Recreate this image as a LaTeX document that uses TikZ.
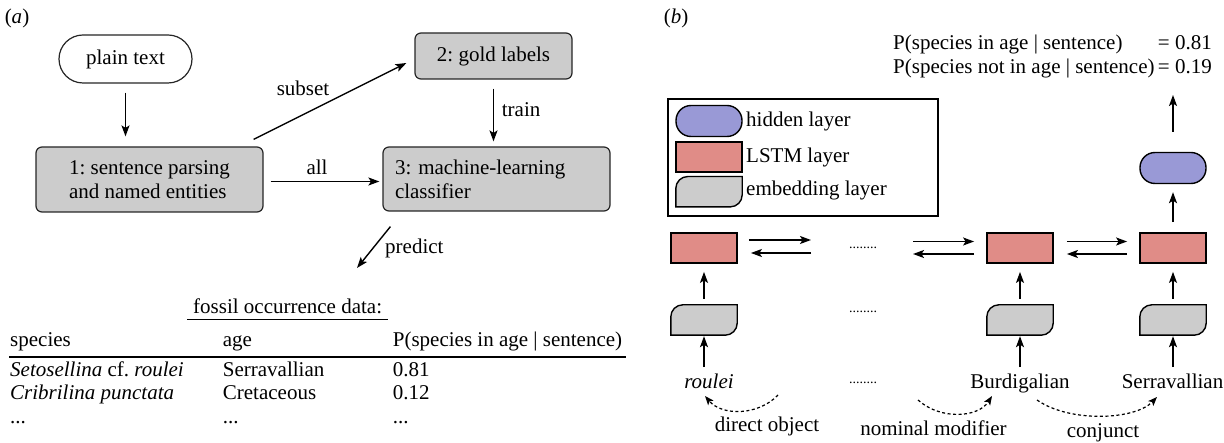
\documentclass[tikz,border=0pt]{standalone}
\usepackage{fontspec}
\setmainfont{Liberation Serif}
\usetikzlibrary{arrows.meta,calc}
\definecolor{boxgray}{RGB}{204,204,204}
\definecolor{hidblue}{RGB}{153,153,214}
\definecolor{lstmred}{RGB}{224,140,135}
\newcommand\embshape[1]{%
  \draw[embdraw] (#1.south west) -- ($(#1.north west)+(0,12)$)
    .. controls ($(#1.north west)+(0,5.4)$) and ($(#1.north west)+(5.4,0)$) .. ($(#1.north west)+(12,0)$)
    -- (#1.north east) -- ($(#1.south east)+(0,-12)$)
    .. controls ($(#1.south east)+(0,-5.4)$) and ($(#1.south east)+(-5.4,0)$) .. ($(#1.south east)+(-12,0)$)
    -- cycle;}
\frenchspacing
\begin{document}
\begin{tikzpicture}[x=1pt,y=-1pt,
  font=\fontsize{21}{24}\selectfont,
  arr/.style={line width=1.4pt,-{Stealth[length=11pt,width=8pt,inset=2.5pt]}},
  darr/.style={line width=1.2pt,dash pattern=on 3pt off 2.5pt,-{Stealth[length=9pt,width=7pt,inset=2pt]}},
  procbox/.style={draw=black!85,line width=1.2pt,fill=boxgray,rounded corners=6pt,inner sep=0pt,align=left},
  startbox/.style={draw=black!85,line width=1.2pt,fill=white,rounded corners=24pt,inner sep=0pt},
  hidbox/.style={draw=black,line width=1.4pt,fill=hidblue,rounded corners=15pt,minimum width=66pt,minimum height=31pt,inner sep=0pt},
  lstmbox/.style={draw=black,line width=1.8pt,fill=lstmred,minimum width=66pt,minimum height=30pt,inner sep=0pt},
  embbox/.style={minimum width=66pt,minimum height=30pt,inner sep=0pt},
  embdraw/.style={draw=black,line width=1.4pt,fill=boxgray},
  cell/.style={anchor=base west,inner sep=0pt},
  word/.style={anchor=base,inner sep=0pt},
  dotsn/.style={anchor=base,inner sep=0pt,font=\fontsize{14}{14}\selectfont},
  lbl/.style={inner sep=0pt}]
\useasboundingbox (0,0) rectangle (1224,443);

% ---------------- panel (a)
\node[lbl] (la) at (17,18) {(\textit{a})};
\node[startbox,minimum width=133pt,minimum height=48pt] (plain) at (125.5,59) {plain text};
\node[procbox,minimum width=227pt,minimum height=65pt] (parse) at (149.5,179.5) {1: sentence parsing\\and named entities};
\node[procbox,minimum width=157pt,minimum height=46pt] (gold) at (493.5,56) {2: gold labels};
\node[procbox,minimum width=227pt,minimum height=64pt,text width=203pt] (clf) at (496.5,179) {3: machine-learning\\classifier};

\draw[arr,shorten <=9pt,shorten >=10pt] (plain.south) -- (plain.south |- parse.north);
\draw[arr] ($(parse.north east)+(-10,-7)$) -- ($(gold.west)+(-8,7)$);
\node[lbl] (lsubset) at (303,88) {subset};
\draw[arr] ($(parse.east)+(7,2)$) -- ($(clf.west)+(-3,2.5)$);
\node[lbl] (lall) at (317,167) {all};
\draw[arr,shorten <=9pt,shorten >=5pt] (gold.south) -- (gold.south |- clf.north);
\node[lbl,anchor=west] (ltrain) at (501.7,110) {train};
\coordinate (predtip) at (357,268);
\draw[arr] ($(clf.south west)+(8,15)$) -- (predtip);
\node[lbl,anchor=west] (lpredict) at (385,248) {predict};

% table
\node[cell] (ttl) at (193,314) {fossil occurrence data:};
\draw[line width=1pt] ($(ttl.base west)+(-6,6)$) -- ($(ttl.base east)+(6,6)$);
\node[cell] (h1) at (10,346.7) {species};
\node[cell] (h2) at (222.7,346.7) {age};
\node[cell] (h3) at (392.7,346.7) {P(species in age | sentence)};
\draw[line width=2pt] (9,357.3) -- (626,357.3);
\node[cell] (r11) at (10,376.7) {\textit{Setosellina} cf. \textit{roulei}};
\node[cell] (r12) at (222.7,376.7) {Serravallian};
\node[cell] (r13) at (392.7,376.7) {0.81};
\node[cell] (r21) at (10,400) {\textit{Cribrilina punctata}};
\node[cell] (r22) at (222.7,400) {Cretaceous};
\node[cell] (r23) at (392.7,400) {0.12};
\node[cell] (r31) at (10,424) {...};
\node[cell] (r32) at (222.7,424) {...};
\node[cell] (r33) at (392.7,424) {...};

% ---------------- panel (b)
\node[lbl] (lb) at (676,18) {(\textit{b})};
\node[cell] (o1) at (893,50) {P(species in age | sentence)};
\node[cell,anchor=base east] (o1v) at (1212,50) {= 0.81};
\node[cell] (o2) at (893,74) {P(species not in age | sentence)};
\node[cell,anchor=base east] (o2v) at (1212,74) {= 0.19};

% legend
\node[draw=black,line width=1.2pt,minimum width=270pt,minimum height=117pt,inner sep=0pt] (legend) at (803,157.5) {};
\node[hidbox] (kh) at (709,121) {};
\node[lstmbox] (kl) at (709,156.7) {};
\node[embbox] (ke) at (709,191.7) {};
\embshape{ke}
\node[lbl,anchor=west] (khl) at (746,121.7) {hidden layer};
\node[lbl,anchor=west] (kll) at (746,157) {LSTM layer};
\node[lbl,anchor=west] (kel) at (746,190) {embedding layer};

% network
\node[lstmbox] (L1) at (704,248) {};
\node[lstmbox] (L2) at (1020,248) {};
\node[lstmbox] (L3) at (1173,248) {};
\node[embbox] (E1) at (704,320) {};
\node[embbox] (E2) at (1020,320) {};
\node[embbox] (E3) at (1173,320) {};
\embshape{E1}\embshape{E2}\embshape{E3}
\node[word] (w1) at (709,389) {\textit{roulei}};
\node[word] (w2) at (1020,389) {Burdigalian};
\node[word] (w3) at (1172.5,389) {Serravallian};
\node[dotsn] (dt1) at (863,249) {........};
\node[dotsn] (dt2) at (863,313) {........};
\node[dotsn] (dt3) at (863,384) {........};
\node[hidbox] (H) at (1173,168) {};
\coordinate (out) at (1173,95);

\draw[arr,shorten <=7pt,shorten >=1pt] (w1.north -| E1.south) -- (E1.south);
\draw[arr,shorten <=7pt,shorten >=1pt] (w2.north -| E2.south) -- (E2.south);
\draw[arr,shorten <=7pt,shorten >=1pt] (w3.north -| E3.south) -- (E3.south);
\draw[arr,shorten <=6pt,shorten >=8pt] (E1.north) -- (L1.south);
\draw[arr,shorten <=6pt,shorten >=8pt] (E2.north) -- (L2.south);
\draw[arr,shorten <=6pt,shorten >=8pt] (E3.north) -- (L3.south);
\draw[arr,shorten <=10pt,shorten >=8pt] (L3.north) -- (H.south);
\draw[arr,shorten <=20pt] (H.north) -- (out);

\coordinate (a1r) at (811,240);
\coordinate (a1l) at (811,253);
\draw[arr] ($(L1.east)+(11,-8)$) -- (a1r);
\draw[arr] (a1l) -- ($(L1.east)+(13,5)$);
\coordinate (a2r) at (913,241.5);
\coordinate (a2l) at (913,254);
\draw[arr] (a2r) -- ($(L2.west)+(-12,-6.5)$);
\draw[arr] ($(L2.west)+(-12,6)$) -- (a2l);
\draw[arr] ($(L2.east)+(13,-6.5)$) -- ($(L3.west)+(-12,-6.5)$);
\draw[arr] ($(L3.west)+(-12,6)$) -- ($(L2.east)+(13,6)$);

% dependency arcs
\coordinate (d1s) at (778,395);
\coordinate (d1e) at (705,396);
\draw[darr] (d1s) .. controls (758,416) and (722,416) .. (d1e);
\coordinate (d2s) at (918,400);
\coordinate (d2e) at (992,396);
\draw[darr] (d2s) .. controls (940,420) and (978,418) .. (d2e);
\coordinate (d3s) at (1037,400);
\coordinate (d3e) at (1157,397);
\draw[darr] (d3s) .. controls (1070,423) and (1135,420) .. (d3e);
\node[word] (dl1) at (767,432) {direct object};
\node[word] (dl2) at (933.5,436) {nominal modifier};
\node[word] (dl3) at (1103,437.5) {conjunct};
\end{tikzpicture}
\end{document}
